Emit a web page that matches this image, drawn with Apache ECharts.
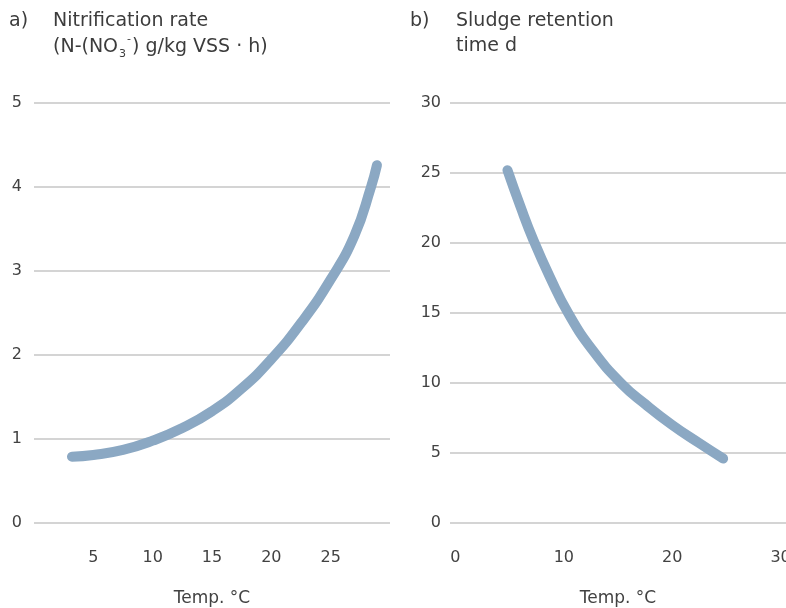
<!DOCTYPE html>
<html>
<head>
<meta charset="utf-8">
<script src="https://cdn.jsdelivr.net/npm/echarts@6/dist/echarts.min.js"></script>
<style>html,body{margin:0;padding:0;background:#fff}#c{width:786px;height:608px}</style>
</head>
<body>
<div id="c"></div>
<script>
// Panel a) nitrification rate vs temperature
const tempA = [3.2, 5, 7.5, 10, 12.5, 15, 17.5, 20, 22.5, 25, 27, 28.4, 28.9];
const rateA = [0.79, 0.81, 0.87, 0.98, 1.13, 1.33, 1.6, 1.95, 2.38, 2.9, 3.42, 4.0, 4.26];
// Panel b) sludge retention time vs temperature
const tempB = [4.8, 6, 7.2, 8.7, 10.4, 12.7, 15.4, 17.5, 20, 22.5, 24.7];
const srtB = [25.2, 22.6, 20.2, 17.6, 15.0, 12.3, 9.9, 8.5, 7.0, 5.7, 4.6];
// Tick labels
const xTicksA = [5, 10, 15, 20, 25];
const xTicksB = [0, 10, 20, 30];

const FONT = 'DejaVu Sans';
const lineColor = '#8ba8c3';
const gridColor = '#d4d4d4';
const textColor = '#424242';
const titleColor = '#3c3c3c';

const chart = echarts.init(document.getElementById('c'), null, {renderer: 'canvas'});

const yCommon = {
  type: 'value',
  axisLine: {show: false},
  axisTick: {show: false},
  splitLine: {show: true, lineStyle: {color: gridColor, width: 2}},
  axisLabel: {color: textColor, fontFamily: FONT, fontSize: 16}
};
const xCommon = {
  type: 'value',
  axisLine: {show: false},
  axisTick: {show: false},
  splitLine: {show: false},
  name: 'Temp. °C',
  nameLocation: 'middle',
  nameGap: 67,
  nameTextStyle: {color: textColor, fontFamily: FONT, fontSize: 17}
};

chart.setOption({
  animation: false,
  grid: [
    {left: 34, width: 356, top: 103, height: 420, outerBoundsMode: 'none'},
    {left: 450, width: 336, top: 103, height: 420, outerBoundsMode: 'none'}
  ],
  xAxis: [
    Object.assign({}, xCommon, {
      gridIndex: 0, min: 0, max: 30, interval: 5,
      axisLabel: {color: textColor, fontFamily: FONT, fontSize: 16, margin: 27,
        customValues: xTicksA}
    }),
    Object.assign({}, xCommon, {
      gridIndex: 1, min: -0.5, max: 30.5,
      axisLabel: {color: textColor, fontFamily: FONT, fontSize: 16, margin: 27,
        customValues: xTicksB, showMinLabel: true, showMaxLabel: true}
    })
  ],
  yAxis: [
    Object.assign({}, yCommon, {gridIndex: 0, min: 0, max: 5, interval: 1,
      axisLabel: Object.assign({}, yCommon.axisLabel, {margin: 12})}),
    Object.assign({}, yCommon, {gridIndex: 1, min: 0, max: 30, interval: 5,
      axisLabel: Object.assign({}, yCommon.axisLabel, {margin: 9})})
  ],
  series: [
    {
      type: 'line', xAxisIndex: 0, yAxisIndex: 0, smooth: 0.5, showSymbol: false,
      lineStyle: {color: lineColor, width: 10, cap: 'round', join: 'round'},
      data: tempA.map((t, i) => [t, rateA[i]])
    },
    {
      type: 'line', xAxisIndex: 1, yAxisIndex: 1, smooth: 0.5, showSymbol: false,
      lineStyle: {color: lineColor, width: 10, cap: 'round', join: 'round'},
      data: tempB.map((t, i) => [t, srtB[i]])
    }
  ],
  graphic: [
    {type: 'text', left: 9, top: 12, style: {text: 'a)', fill: titleColor, font: '19px "DejaVu Sans"'}},
    {type: 'text', left: 53, top: 12, style: {text: 'Nitrification rate', fill: titleColor, font: '19px "DejaVu Sans"'}},
    {type: 'text', left: 53, top: 34, style: {
      text: '{n|(N-(NO}{sub|3}{sup|-}{n|) g/kg VSS · h)}',
      fill: titleColor,
      rich: {
        n: {fontFamily: FONT, fontSize: 19, fill: titleColor, lineHeight: 26, verticalAlign: 'middle'},
        sub: {fontFamily: FONT, fontSize: 11, fill: titleColor, lineHeight: 26, verticalAlign: 'bottom', padding: [0, 1, 0, 1]},
        sup: {fontFamily: FONT, fontSize: 11, fill: titleColor, lineHeight: 26, verticalAlign: 'top', padding: [0, 1, 0, 0]}
      }
    }},
    {type: 'text', left: 410, top: 12, style: {text: 'b)', fill: titleColor, font: '19px "DejaVu Sans"'}},
    {type: 'text', left: 456, top: 12, style: {text: 'Sludge retention', fill: titleColor, font: '19px "DejaVu Sans"'}},
    {type: 'text', left: 456, top: 37, style: {text: 'time d', fill: titleColor, font: '19px "DejaVu Sans"'}}
  ]
});
</script>
</body>
</html>
